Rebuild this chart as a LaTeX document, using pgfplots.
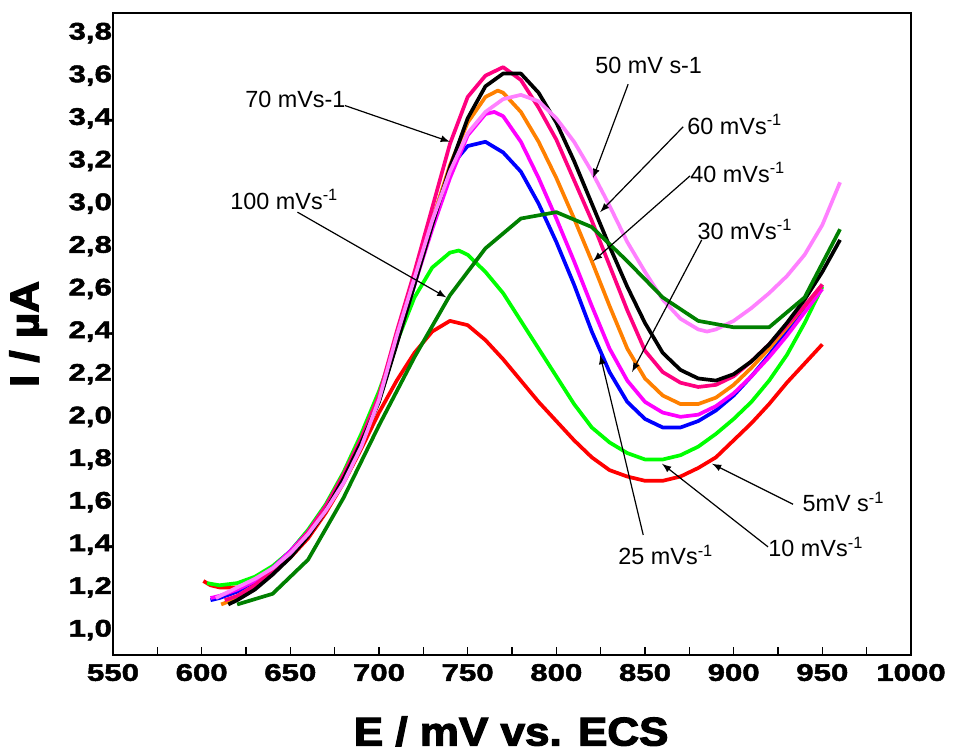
\documentclass[border=0pt]{standalone}
\usepackage{fontspec}
\setmainfont{Liberation Sans}
\newfontfamily\heavyfont{Liberation Sans Bold}[FakeBold=3, FakeStretch=1.1]
\newfontfamily\tickfont{Liberation Sans Bold}[FakeBold=2, FakeStretch=1.3]
\usepackage{pgfplots}
\pgfplotsset{compat=1.18}
\definecolor{cred}{RGB}{255,0,0}
\definecolor{cgreen}{RGB}{0,255,0}
\definecolor{cblue}{RGB}{0,0,255}
\definecolor{cmag}{RGB}{255,0,255}
\definecolor{corange}{RGB}{255,128,0}
\definecolor{cdeeppink}{RGB}{255,0,128}
\definecolor{clpink}{RGB}{255,128,255}
\definecolor{cdgreen}{RGB}{0,128,0}
\begin{document}
\begin{tikzpicture}
\useasboundingbox (-56.5pt,-49.5pt) rectangle (420pt,327.5pt);
\begin{axis}[
  scale only axis, width=399pt, height=321pt,
  xmin=550, xmax=1000, ymin=0.883, ymax=3.894,
  xtick={550,600,...,1000},
  ytick={1.0,1.2,1.4,1.6,1.8,2.0,2.2,2.4,2.6,2.8,3.0,3.2,3.4,3.6,3.8},
  minor xtick={575,625,...,975},
  xtick align=inside, xtick pos=bottom, ytick pos=left,
  major tick length=4pt, minor tick length=4pt,
  axis line style={line width=1pt},
  xtick style={line width=0.6pt, black},
  ytick style={draw=none},
  /pgf/number format/assume math mode=true,
  yticklabel style={/pgf/number format/fixed, /pgf/number format/fixed zerofill, /pgf/number format/precision=1, /pgf/number format/use comma, xshift=3pt},
  xticklabel style={/pgf/number format/fixed, /pgf/number format/1000 sep={}, yshift=-1pt},
  ticklabel style={font=\tickfont\fontsize{12pt}{14pt}\selectfont},
  xlabel={E / mV vs. ECS}, ylabel={I / µA},
  every axis x label/.style={at={(axis description cs:0.499,-0.119)}, anchor=center, font=\heavyfont\fontsize{20pt}{22pt}\selectfont},
  every axis y label/.style={at={(axis description cs:-0.1065,0.5)}, anchor=center, rotate=90, font=\heavyfont\fontsize{20pt}{22pt}\selectfont},
  clip=false,
  every axis plot/.append style={line width=1.85pt, line join=round},
]
% 5 mV/s
\addplot[cred] coordinates {(601,1.23)(605,1.21)(610,1.20)(620,1.20)(630,1.22)(640,1.27)(650,1.34)(660,1.43)(670,1.55)(680,1.69)(690,1.85)(700,2.02)(710,2.17)(720,2.30)(730,2.40)(740,2.45)(750,2.43)(760,2.36)(770,2.27)(780,2.17)(790,2.07)(800,1.98)(810,1.89)(820,1.81)(830,1.75)(840,1.72)(850,1.70)(860,1.70)(870,1.72)(880,1.76)(890,1.81)(900,1.89)(910,1.97)(920,2.06)(930,2.16)(940,2.25)(950,2.34)};
% 10 mV/s
\addplot[cgreen] coordinates {(603,1.22)(610,1.21)(620,1.22)(630,1.25)(640,1.30)(650,1.37)(660,1.47)(670,1.59)(680,1.74)(690,1.92)(700,2.12)(710,2.35)(720,2.56)(730,2.70)(740,2.77)(745,2.78)(750,2.76)(760,2.68)(770,2.58)(780,2.45)(790,2.32)(800,2.19)(810,2.06)(820,1.95)(830,1.88)(840,1.83)(850,1.80)(860,1.80)(870,1.82)(880,1.86)(890,1.92)(900,1.99)(910,2.07)(920,2.17)(930,2.29)(940,2.44)(950,2.61)};
% 25 mV/s
\addplot[cblue] coordinates {(605,1.14)(610,1.15)(620,1.18)(630,1.23)(640,1.29)(650,1.37)(660,1.46)(670,1.58)(680,1.72)(690,1.89)(700,2.08)(710,2.35)(720,2.62)(730,2.92)(740,3.17)(750,3.27)(760,3.29)(770,3.24)(780,3.15)(790,3.00)(800,2.82)(810,2.62)(820,2.40)(830,2.21)(840,2.07)(850,1.99)(860,1.95)(870,1.95)(880,1.98)(890,2.03)(900,2.10)(910,2.19)(920,2.29)(930,2.40)(940,2.51)(950,2.62)};
% 30 mV/s
\addplot[cmag] coordinates {(605,1.15)(610,1.16)(620,1.19)(630,1.23)(640,1.29)(650,1.37)(660,1.46)(670,1.58)(680,1.72)(690,1.89)(700,2.08)(710,2.35)(720,2.62)(730,2.88)(740,3.12)(750,3.32)(760,3.42)(765,3.43)(770,3.41)(780,3.29)(790,3.12)(800,2.93)(810,2.73)(820,2.52)(830,2.32)(840,2.17)(850,2.07)(860,2.02)(870,2.00)(880,2.01)(890,2.05)(900,2.11)(910,2.19)(920,2.28)(930,2.38)(940,2.49)(950,2.60)};
% 40 mV/s
\addplot[corange] coordinates {(611,1.12)(620,1.15)(630,1.20)(640,1.27)(650,1.35)(660,1.45)(670,1.57)(680,1.71)(690,1.88)(700,2.08)(710,2.36)(720,2.64)(730,2.92)(740,3.18)(750,3.38)(760,3.50)(767,3.53)(770,3.52)(780,3.43)(790,3.29)(800,3.12)(810,2.93)(820,2.73)(830,2.52)(840,2.32)(850,2.18)(860,2.10)(870,2.06)(880,2.06)(890,2.09)(900,2.15)(910,2.23)(920,2.32)(930,2.42)(940,2.52)(950,2.62)};
% 70 mV/s
\addplot[cdeeppink] coordinates {(613,1.14)(620,1.16)(630,1.21)(640,1.28)(650,1.36)(660,1.46)(670,1.58)(680,1.73)(690,1.90)(700,2.10)(710,2.40)(720,2.68)(730,2.98)(740,3.28)(750,3.50)(760,3.60)(770,3.64)(780,3.58)(790,3.45)(800,3.30)(810,3.11)(820,2.92)(830,2.71)(840,2.50)(850,2.31)(860,2.21)(870,2.16)(880,2.14)(890,2.15)(900,2.19)(910,2.26)(920,2.34)(930,2.43)(940,2.52)(950,2.62)};
% 60 mV/s
\addplot[black] coordinates {(615,1.12)(620,1.14)(630,1.19)(640,1.26)(650,1.34)(660,1.44)(670,1.56)(680,1.71)(690,1.88)(700,2.07)(710,2.34)(720,2.62)(730,2.90)(740,3.17)(750,3.40)(760,3.55)(770,3.61)(780,3.61)(790,3.52)(800,3.38)(810,3.20)(820,3.00)(830,2.80)(840,2.61)(850,2.44)(860,2.30)(870,2.22)(880,2.18)(890,2.17)(900,2.20)(910,2.26)(920,2.34)(930,2.44)(940,2.55)(950,2.68)(960,2.83)};
% 50 mV/s
\addplot[clpink] coordinates {(608,1.15)(620,1.20)(630,1.24)(640,1.29)(650,1.36)(660,1.45)(670,1.56)(680,1.69)(690,1.86)(700,2.08)(710,2.38)(720,2.65)(730,2.92)(740,3.15)(750,3.33)(760,3.43)(770,3.49)(780,3.51)(790,3.48)(800,3.40)(810,3.29)(820,3.15)(830,2.99)(840,2.82)(850,2.68)(860,2.55)(870,2.46)(880,2.41)(885,2.40)(890,2.41)(900,2.45)(910,2.51)(920,2.58)(930,2.66)(940,2.76)(950,2.90)(960,3.10)};
% 100 mV/s
\addplot[cdgreen] coordinates {(620,1.12)(640,1.17)(660,1.33)(680,1.62)(700,1.96)(720,2.28)(740,2.57)(760,2.79)(780,2.93)(800,2.96)(820,2.89)(840,2.73)(860,2.56)(880,2.45)(900,2.42)(920,2.42)(940,2.56)(960,2.88)};

% annotations
\begin{scope}[every node/.style={font=\fontsize{11.7pt}{13pt}\selectfont, anchor=west, inner sep=0pt}]
\node at (axis cs:624.4,3.488) {70 mVs-1};
\node at (axis cs:616,3.02) {100 mVs\textsuperscript{-1}};
\node at (axis cs:821.8,3.65) {50 mV s-1};
\node at (axis cs:873.7,3.37) {60 mVs\textsuperscript{-1}};
\node at (axis cs:875.4,3.145) {40 mVs\textsuperscript{-1}};
\node at (axis cs:879.4,2.878) {30 mVs\textsuperscript{-1}};
\node at (axis cs:834.8,1.352) {25 mVs\textsuperscript{-1}};
\node at (axis cs:919.4,1.39) {10 mVs\textsuperscript{-1}};
\node at (axis cs:938.6,1.60) {5mV s\textsuperscript{-1}};
\end{scope}
\begin{scope}[line width=0.6pt, -latex]
\draw (axis cs:680.8,3.46) -- (axis cs:740,3.29);
\draw (axis cs:654,2.96) -- (axis cs:738,2.56);
\draw (axis cs:840.5,3.56) -- (axis cs:820.7,3.12);
\draw (axis cs:871.5,3.36) -- (axis cs:824.7,2.96);
\draw (axis cs:875.4,3.13) -- (axis cs:820.7,2.73);
\draw (axis cs:882,2.83) -- (axis cs:842.7,2.21);
\draw (axis cs:849,1.446) -- (axis cs:824.7,2.29);
\draw (axis cs:919.4,1.39) -- (axis cs:859.6,1.78);
\draw (axis cs:933.5,1.59) -- (axis cs:887.8,1.78);
\end{scope}
\end{axis}
\end{tikzpicture}
\end{document}
